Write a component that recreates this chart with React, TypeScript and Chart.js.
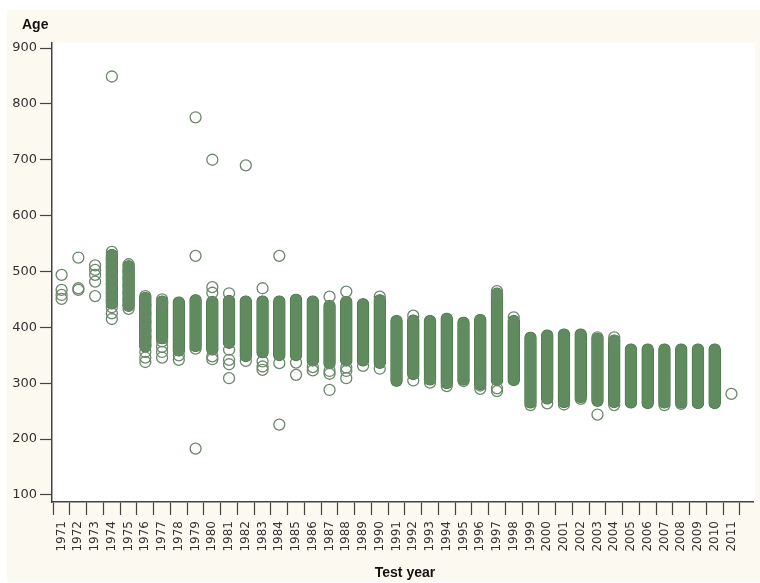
import { useEffect, useRef } from "react";
import { Chart, registerables } from "chart.js";

Chart.register(...registerables);

// Test years (x categories)
const years = [
  1971, 1972, 1973, 1974, 1975, 1976, 1977, 1978, 1979, 1980,
  1981, 1982, 1983, 1984, 1985, 1986, 1987, 1988, 1989, 1990,
  1991, 1992, 1993, 1994, 1995, 1996, 1997, 1998, 1999, 2000,
  2001, 2002, 2003, 2004, 2005, 2006, 2007, 2008, 2009, 2010,
  2011,
];

// Dense runs of overlapping points per year: lower and upper edge (Age)
const colLow: (number | null)[] = [
  null, null, null, 432, 428, 355, 370, 348, 356, 350,
  362, 338, 345, 340, 340, 330, 325, 330, 330, 326,
  294, 306, 296, 290, 296, 288, 295, 295, 255, 262,
  256, 265, 258, 256, 255, 254, 255, 255, 254, 254,
  null,
];
const colHigh: (number | null)[] = [
  null, null, null, 540, 520, 463, 457, 455, 459, 456,
  458, 457, 457, 457, 460, 457, 449, 456, 452, 459,
  422, 423, 422, 426, 419, 424, 471, 422, 392, 396,
  398, 398, 390, 387, 371, 371, 371, 371, 371, 371,
  null,
];

// Individually visible circles (year, age)
const circleYears = [
  1971, 1971, 1971, 1971,
  1972, 1972, 1972,
  1973, 1973, 1973, 1973, 1973,
  1974, 1974, 1974, 1974, 1974, 1974, 1974, 1974, 1974, 1974, 1974,
  1975, 1975, 1975, 1975, 1975, 1975, 1975, 1975,
  1976, 1976, 1976, 1976, 1976, 1976, 1976, 1976, 1976, 1976,
  1977, 1977, 1977, 1977, 1977, 1977,
  1978, 1978,
  1979, 1979, 1979, 1979,
  1980, 1980, 1980, 1980, 1980,
  1981, 1981, 1981, 1981, 1981,
  1982, 1982,
  1983, 1983, 1983, 1983,
  1984, 1984, 1984,
  1985, 1985,
  1986, 1986,
  1987, 1987, 1987, 1987,
  1988, 1988, 1988, 1988,
  1989,
  1990, 1990,
  1992, 1992,
  1993,
  1994,
  1995,
  1996, 1996,
  1997, 1997, 1997, 1997,
  1998,
  1999,
  2000,
  2001,
  2002,
  2003, 2003,
  2004, 2004, 2004,
  2007,
  2008,
  2011,
];
const circleAges = [
  494, 467, 458, 451,
  525, 470, 467,
  511, 503, 494, 482, 456,
  849, 535, 522, 508, 493, 478, 462, 448, 436, 425, 415,
  513, 500, 488, 475, 462, 450, 440, 433,
  456, 440, 425, 410, 395, 383, 368, 356, 346, 338,
  450, 443, 375, 365, 356, 346,
  350, 342,
  776, 528, 362, 183,
  700, 472, 462, 348, 343,
  461, 360, 342, 334, 309,
  690, 340,
  470, 339, 330, 324,
  528, 336, 226,
  337, 315,
  329, 323,
  455, 322, 317, 288,
  464, 328, 322, 309,
  331,
  455, 326,
  421, 305,
  301,
  295,
  304,
  296, 290,
  465, 458, 291, 286,
  418,
  261,
  264,
  262,
  272,
  382, 244,
  382, 376, 261,
  261,
  263,
  281,
];

const yTicks = [100, 200, 300, 400, 500, 600, 700, 800, 900];

export default function App() {
  const ref = useRef<HTMLCanvasElement>(null);

  useEffect(() => {
    document.body.style.margin = "0";
    const canvas = ref.current;
    if (!canvas) return;

    const frame = {
      id: "frame",
      beforeDraw(chart: any) {
        const { ctx, chartArea } = chart;
        ctx.save();
        ctx.fillStyle = "#ffffff";
        ctx.fillRect(0, 0, chart.width, chart.height);
        ctx.fillStyle = "#fcf9f1";
        ctx.fillRect(7, 10, 753, 572);
        ctx.fillStyle = "#ffffff";
        ctx.fillRect(
          chartArea.left,
          chartArea.top,
          755 - chartArea.left,
          chartArea.bottom - chartArea.top
        );
        ctx.restore();
      },
      afterDraw(chart: any) {
        const { ctx } = chart;
        ctx.save();
        ctx.fillStyle = "#111111";
        ctx.font = "bold 14px 'Liberation Sans', Arial, sans-serif";
        ctx.textAlign = "left";
        ctx.textBaseline = "alphabetic";
        ctx.fillText("Age", 22, 29);
        ctx.textAlign = "center";
        ctx.fillText("Test year", 405, 577);
        ctx.restore();
      },
    };

    const barData = years.flatMap((x, i) =>
      colLow[i] == null ? [] : [{ x, y: [colLow[i] as number, colHigh[i] as number] }]
    );
    const pointData = circleYears.map((x, i) => ({ x, y: circleAges[i] }));

    const chart = new Chart(canvas, {
      type: "scatter",
      data: {
        datasets: [
          {
            type: "scatter",
            label: "circles",
            data: pointData as any,
            pointRadius: 5.5,
            pointHoverRadius: 5.5,
            pointBorderWidth: 1.3,
            borderColor: "#6b876b",
            backgroundColor: "rgba(0,0,0,0)",
            order: 0,
          },
          {
            type: "bar",
            label: "dense",
            data: barData as any,
            barThickness: 12,
            backgroundColor: "#5f8b5f",
            borderColor: "#527f52",
            borderWidth: 1,
            borderRadius: 6,
            borderSkipped: false,
            order: 1,
          } as any,
        ],
      },
      options: {
        responsive: false,
        animation: false,
        events: [],
        layout: { padding: { left: 0, right: 0, top: 43, bottom: 0 } },
        plugins: {
          legend: { display: false },
          tooltip: { enabled: false },
          title: { display: false },
        },
        scales: {
          x: {
            type: "linear",
            min: 1970.426,
            max: 2012.3,
            bounds: "data",
            offset: false,
            afterBuildTicks: (axis: any) => {
              axis.ticks = years.map((v) => ({ value: v }));
            },
            afterFit: (axis: any) => {
              axis.height = 81;
            },
            grid: {
              display: true,
              drawOnChartArea: false,
              drawTicks: true,
              tickLength: 13,
              tickColor: "#444444",
              tickWidth: 1.2,
            },
            border: { display: true, color: "#444444", width: 1.5 },
            ticks: {
              autoSkip: false,
              minRotation: 90,
              maxRotation: 90,
              padding: 6,
              color: "#333333",
              font: { family: "'DejaVu Sans', Verdana, sans-serif", size: 12 },
              callback: (v: any) => String(v),
            },
          },
          y: {
            type: "linear",
            min: 87.47,
            max: 908.95,
            bounds: "data",
            afterBuildTicks: (axis: any) => {
              axis.ticks = yTicks.map((v) => ({ value: v }));
            },
            afterFit: (axis: any) => {
              axis.width = 52;
            },
            grid: {
              display: true,
              drawOnChartArea: false,
              drawTicks: true,
              tickLength: 12,
              tickColor: "#444444",
              tickWidth: 1.2,
            },
            border: { display: true, color: "#444444", width: 1.5 },
            ticks: {
              padding: 3,
              color: "#333333",
              font: { family: "'DejaVu Sans', Verdana, sans-serif", size: 13 },
              callback: (v: any) => String(v),
            },
          },
        },
      } as any,
      plugins: [frame],
    });

    return () => chart.destroy();
  }, []);

  return (
    <div style={{ width: 760, height: 583 }}>
      <canvas ref={ref} width={760} height={583} style={{ display: "block" }} />
    </div>
  );
}
